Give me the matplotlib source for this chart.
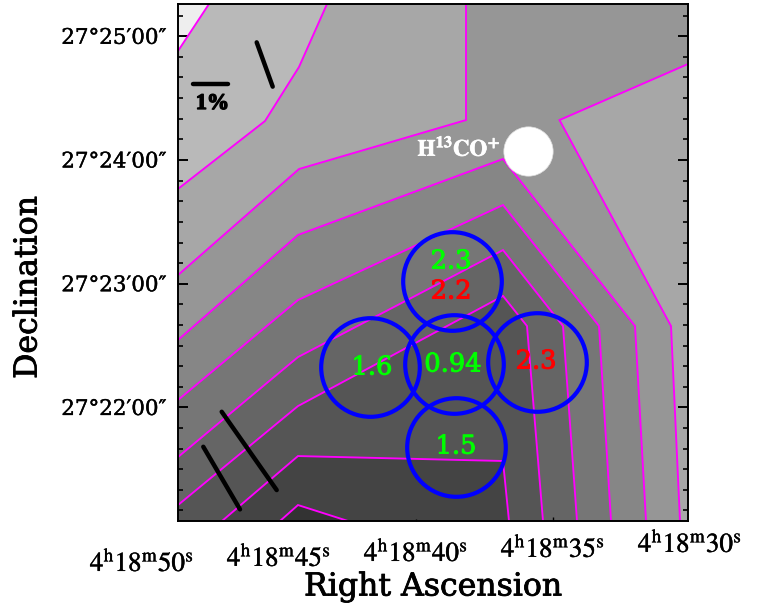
import matplotlib
matplotlib.use("Agg")
import matplotlib.pyplot as plt
from matplotlib.patches import Polygon
from matplotlib.ticker import FixedLocator, FuncFormatter
import matplotlib.patheffects as pe

# RA in seconds past 4h18m, Dec in arcminutes past 27 deg
XL = (48.686, 30.073)
YL = (21.082, 25.261)

c1_ra = [47.555, 48.686]
c1_dec = [25.261, 24.881]
c2_ra = [43.248, 44.270, 45.511, 48.686]
c2_dec = [25.261, 24.752, 24.315, 23.766]
c3_ra = [48.686, 44.270, 38.175, 38.175]
c3_dec = [23.070, 23.927, 24.323, 25.261]
a_ra = [30.073, 34.763, 30.693, 30.365]
a_dec = [24.776, 24.323, 22.658, 21.082]
b_ra = [48.686, 44.307, 36.825, 32.007, 31.606]
b_dec = [22.545, 23.394, 24.008, 22.658, 21.082]
c_ra = [48.686, 44.307, 36.825, 33.321, 32.883]
c_dec = [22.060, 22.868, 23.636, 22.658, 21.082]
d_ra = [48.686, 44.307, 36.825, 34.635, 34.124]
d_dec = [21.599, 22.407, 23.272, 22.658, 21.082]
e_ra = [48.686, 44.307, 36.825, 35.949, 35.365]
e_dec = [21.211, 22.011, 22.901, 22.658, 21.082]
f_ra = [47.080, 44.307, 36.825, 36.606]
f_dec = [21.082, 21.607, 21.567, 21.082]
g_ra = [44.964, 44.307, 42.482]
g_dec = [21.082, 21.211, 21.082]

beam_ra = [38.686, 41.679, 38.613, 35.602, 38.522]
beam_dec = [23.022, 22.327, 22.351, 22.371, 21.684]
lab_ra = [38.723, 38.723, 41.606, 38.650, 35.620, 38.540]
lab_dec = [23.184, 22.941, 22.327, 22.351, 22.375, 21.688]
lab_txt = ["2.3", "2.2", "1.6", "0.94", "2.3", "1.5"]
lab_col = ["#00ff00", "#ff0000", "#00ff00", "#00ff00", "#ff0000", "#00ff00"]

vec_ra = [[48.150, 46.850], [45.814, 45.230], [47.091, 45.084], [47.763, 46.423]]
vec_dec = [[24.612, 24.612], [24.951, 24.593], [21.965, 21.332], [21.682, 21.176]]

ra_ticks = [50, 45, 40, 35, 30]
ra_label_dec = [20.677, 20.718, 20.758, 20.791, 20.831]
ra_labels = [r"$4^{\mathrm{h}}18^{\mathrm{m}}%d^{\mathrm{s}}$" % s for s in ra_ticks]
dec_ticks = [22, 23, 24, 25]
dec_minor = [21.167, 21.333, 21.5, 21.667, 21.833, 22.167, 22.333, 22.5, 22.667, 22.833,
             23.167, 23.333, 23.5, 23.667, 23.833, 24.167, 24.333, 24.5, 24.667, 24.833, 25.167]


def heavy(width, col="black"):
    return [pe.withStroke(linewidth=width, foreground=col)]


plt.rcParams["font.family"] = "DejaVu Serif"
fig = plt.figure(figsize=(7.64, 6.08), dpi=100)
ax = fig.add_axes([178 / 764, 87 / 608, 510 / 764, 517 / 608])
ax.set_xlim(*XL)
ax.set_ylim(*YL)
ax.set_facecolor("#b9b9b9")

x0, x1 = XL
y0, y1 = YL
bands = [
    (c1_ra + [x0], c1_dec + [y1], "#eeeeee"),
    (c2_ra + [x0, x1, x1], c2_dec + [y0, y0, y1], "#a7a7a7"),
    (c3_ra + [x1] + a_ra + [x0], c3_dec + [y1] + a_dec + [y0], "#969696"),
    (b_ra + [x0], b_dec + [y0], "#868686"),
    (c_ra + [x0], c_dec + [y0], "#767676"),
    (d_ra + [x0], d_dec + [y0], "#656565"),
    (e_ra + [x0], e_dec + [y0], "#555555"),
    (f_ra, f_dec, "#444444"),
    (g_ra, g_dec, "#333333"),
]
for bx, by, col in bands:
    ax.add_patch(Polygon(list(zip(bx, by)), closed=True, fc=col, ec="none", zorder=1))
for lx, ly in [(c1_ra, c1_dec), (c2_ra, c2_dec), (c3_ra, c3_dec), (a_ra, a_dec), (b_ra, b_dec),
               (c_ra, c_dec), (d_ra, d_dec), (e_ra, e_dec), (f_ra, f_dec), (g_ra, g_dec)]:
    ax.plot(lx, ly, color="#ff00ff", lw=1.35, zorder=2, solid_joinstyle="miter")

for vx, vy in zip(vec_ra, vec_dec):
    ax.plot(vx, vy, color="black", lw=3.2, solid_capstyle="round", zorder=3)

ax.plot(beam_ra, beam_dec, ls="none", marker="o", ms=71, mfc="none", mec="#0000ff", mew=3.0, zorder=4)
ax.plot([35.912], [24.073], ls="none", marker="o", ms=35.5, mfc="white", mec="#dddddd", mew=0.5, zorder=4)

for x, y, t, c in zip(lab_ra, lab_dec, lab_txt, lab_col):
    ax.text(x, y, t, color=c, fontsize=18.5, ha="center", va="center", zorder=5,
            path_effects=heavy(0.7, c))
ax.text(38.431, 24.09, r"$\mathbf{H^{13}CO^{+}}$", color="white", fontsize=16.5, ha="center",
        va="center", math_fontfamily="stix", zorder=5, path_effects=heavy(0.5, "white"))
ax.text(47.427, 24.453, "1%", color="black", fontsize=16, fontweight="bold", family="Liberation Serif",
        ha="center", va="center", zorder=5, path_effects=heavy(1.0))

ax.xaxis.set_major_locator(FixedLocator([40, 35]))
ax.yaxis.set_major_locator(FixedLocator(dec_ticks))
ax.yaxis.set_minor_locator(FixedLocator(dec_minor))
ax.yaxis.set_major_formatter(FuncFormatter(lambda v, p: "27\u00b0%d\u2032" % v + "00\u2033"))
ax.set_xticklabels([])
ax.tick_params(axis="x", which="major", direction="in", length=3.2, width=1.0, bottom=True, top=False)
ax.tick_params(axis="y", which="major", direction="in", length=7, width=1.4, left=True, right=True,
               pad=8.5, labelsize=15.4)
ax.tick_params(axis="y", which="minor", direction="in", length=3.6, width=1.2, left=True, right=True)
ax.xaxis.get_major_ticks()[0].tick1line.set_markersize(1.5)
for lab in ax.get_yticklabels():
    lab.set_path_effects(heavy(0.3))
for s in ax.spines.values():
    s.set_linewidth(1.4)
    s.set_zorder(6)

for t, y, l in zip(ra_ticks, ra_label_dec, ra_labels):
    ax.text(t, y, l, fontsize=19.5, ha="center", va="baseline", math_fontfamily="stix", clip_on=False,
            path_effects=heavy(0.3))

fig.text(433 / 764, 1 - 587 / 608, "Right Ascension", fontsize=22.7, ha="center", va="center",
         path_effects=heavy(0.6))
fig.text(28 / 764, 1 - 287.5 / 608, "Declination", fontsize=22.7, rotation=90, ha="center", va="center",
         path_effects=heavy(0.6))
fig.savefig("out.png", dpi=100)
